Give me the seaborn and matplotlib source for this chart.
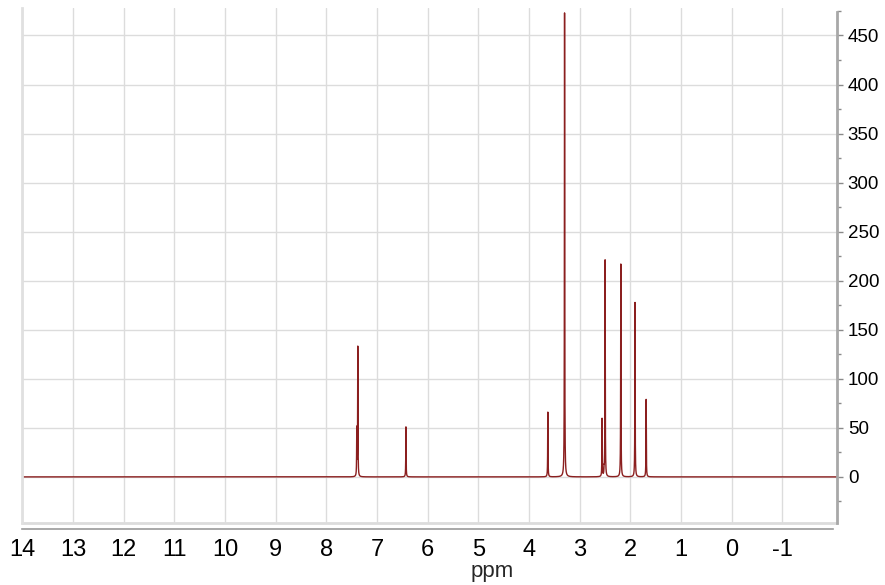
import numpy as np
import pandas as pd
import matplotlib
matplotlib.use("Agg")
import matplotlib.pyplot as plt
from matplotlib.ticker import MultipleLocator, FixedLocator
import seaborn as sns

# Peak list (chemical shift in ppm, intensity)
peak_ppm = [7.40, 7.38, 6.43, 3.63, 3.30, 2.56, 2.52, 2.50, 2.19, 1.91, 1.69]
peak_height = [48, 132, 51, 66, 473, 59, 6, 221, 217, 178, 79]
peak_hwhm = 0.0035

x_ticks = [14, 13, 12, 11, 10, 9, 8, 7, 6, 5, 4, 3, 2, 1, 0, -1]
y_ticks = [0, 50, 100, 150, 200, 250, 300, 350, 400, 450]

x_min, x_max = -2.07, 14.006
y_min, y_max = -47, 478

ppm = np.linspace(x_max, x_min, 64000)
intensity = np.zeros_like(ppm)
for p, h in zip(peak_ppm, peak_height):
    intensity += h / (1 + ((ppm - p) / peak_hwhm) ** 2)
df = pd.DataFrame({"ppm": ppm, "intensity": intensity})

sns.set_style("white")
plt.rcParams["font.family"] = ["Liberation Sans", "DejaVu Sans"]

fig = plt.figure(figsize=(8.85, 5.85), dpi=100)
ax = fig.add_axes([22 / 885, 1 - 523 / 585, (836.7 - 22) / 885, (523 - 8) / 585])

sns.lineplot(data=df, x="ppm", y="intensity", ax=ax, color="#8b1f1f",
             linewidth=1.0, estimator=None, sort=False)

ax.set_xlim(x_max, x_min)
ax.set_ylim(y_min, y_max)

grid_c = "#dcdcdc"
ax.xaxis.set_major_locator(FixedLocator(x_ticks))
ax.xaxis.set_minor_locator(MultipleLocator(0.5))
ax.yaxis.set_major_locator(FixedLocator(y_ticks))
ax.yaxis.set_minor_locator(MultipleLocator(25))
ax.grid(True, which="major", color=grid_c, linewidth=1.0)
ax.set_axisbelow(True)

ax.yaxis.tick_right()
ax.yaxis.set_label_position("right")

ax.spines["top"].set_visible(False)
ax.spines["left"].set_color("#e0e0e0")
ax.spines["left"].set_linewidth(2)
ax.spines["right"].set_color("#a8a8a8")
ax.spines["right"].set_linewidth(2)
ax.spines["right"].set_bounds(y_min, 474)
ax.spines["bottom"].set_position(("outward", 4))
ax.spines["bottom"].set_color("#9a9a9a")
ax.spines["bottom"].set_linewidth(1.2)
ax.spines["bottom"].set_bounds(x_max, -2.0)

# plot box bottom border
ax.plot([0, 1], [0, 0], transform=ax.transAxes, color="#dcdcdc",
        linewidth=2, clip_on=False)

ax.tick_params(axis="x", which="major", direction="out", length=4.5, width=1,
               color="#8a8a8a", labelsize=17, pad=3, labelcolor="black")
ax.tick_params(axis="x", which="minor", direction="out", length=3, width=1,
               color="#8a8a8a")
ax.tick_params(axis="y", which="major", direction="out", length=4, width=1,
               color="#8a8a8a", labelsize=13.5, pad=4, labelcolor="black",
               right=True, left=False)
ax.tick_params(axis="y", which="minor", direction="out", length=3, width=1,
               color="#8a8a8a", right=True, left=False)

ax.set_xticklabels([str(t) for t in x_ticks])
ax.set_yticklabels([str(t) for t in y_ticks])

ax.set_xlabel("ppm", fontsize=16, va="center")
ax.xaxis.set_label_coords(0.577, -0.095)
ax.set_ylabel("")

fig.savefig("out.png", dpi=100)
